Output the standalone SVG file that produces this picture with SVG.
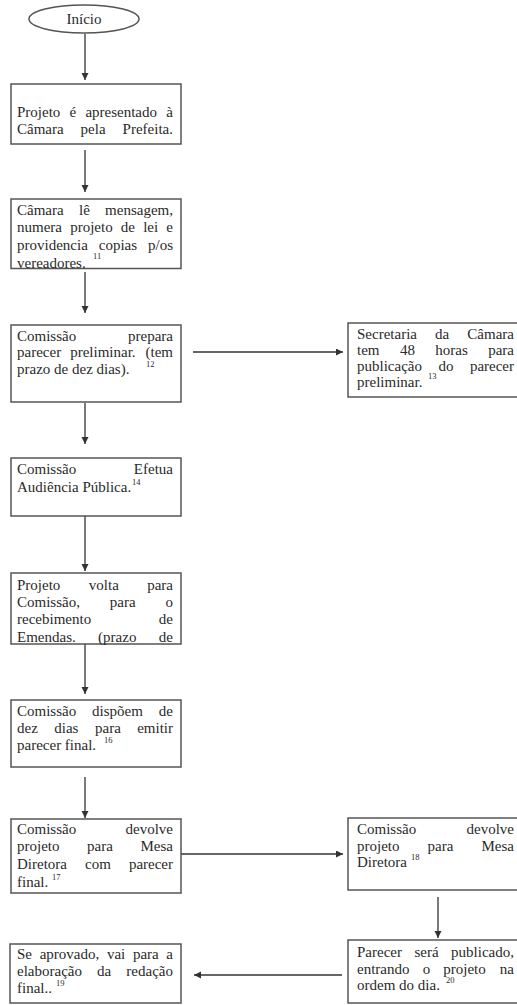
<svg xmlns="http://www.w3.org/2000/svg" width="517" height="1005" viewBox="0 0 517 1005">
<style>
.bx{fill:#fff;stroke:#555;stroke-width:1.5}
.t{font-family:"Liberation Serif","Times New Roman",serif;font-size:15px;fill:#2a2a2a}
.s{font-family:"Liberation Serif","Times New Roman",serif;font-size:8.5px;fill:#2a2a2a}
.e{text-anchor:end}
.c{fill:none;stroke:#333;stroke-width:1.3}
</style>
<defs>
<marker id="ah" markerUnits="userSpaceOnUse" markerWidth="8" markerHeight="8" refX="7" refY="3.5" orient="auto">
<path d="M0,0 L7,3.5 L0,7 z" fill="#333"/>
</marker>
</defs>
<rect width="517" height="1005" fill="#fff"/>

<g id="connectors">
<line class="c" x1="85" y1="34" x2="85" y2="80" marker-end="url(#ah)"/>
<line class="c" x1="85" y1="150" x2="85" y2="192" marker-end="url(#ah)"/>
<line class="c" x1="85" y1="272" x2="85" y2="313" marker-end="url(#ah)"/>
<line class="c" x1="193" y1="352" x2="343" y2="352" marker-end="url(#ah)"/>
<line class="c" x1="85" y1="403" x2="85" y2="444" marker-end="url(#ah)"/>
<line class="c" x1="85" y1="516" x2="85" y2="571" marker-end="url(#ah)"/>
<line class="c" x1="85" y1="644" x2="85" y2="694" marker-end="url(#ah)"/>
<line class="c" x1="85" y1="777" x2="85" y2="818" marker-end="url(#ah)"/>
<line class="c" x1="181" y1="854" x2="343" y2="854" marker-end="url(#ah)"/>
<line class="c" x1="438" y1="897" x2="438" y2="938" marker-end="url(#ah)"/>
<line class="c" x1="342" y1="975" x2="194" y2="975" marker-end="url(#ah)"/>
</g>

<g id="inicio">
<ellipse cx="84" cy="19" rx="55" ry="14" fill="#fff" stroke="#555" stroke-width="1.5"/>
<text class="t" x="84" y="24" text-anchor="middle">Início</text>
</g>

<g id="n1">
<rect class="bx" x="11" y="84" width="170" height="60"/>
<text class="t" y="117"><tspan x="17">Projeto</tspan><tspan x="69.5">é</tspan><tspan x="85.4">apresentado</tspan><tspan x="173" class="e">à</tspan></text>
<text class="t" y="134"><tspan x="17">Câmara</tspan><tspan x="80.6">pela</tspan><tspan x="173" class="e">Prefeita.</tspan></text>
</g>

<g id="n2">
<rect class="bx" x="11" y="199" width="170" height="69.5"/>
<text class="t" y="215"><tspan x="17">Câmara</tspan><tspan x="79">lê</tspan><tspan x="173" class="e">mensagem,</tspan></text>
<text class="t" y="232"><tspan x="17">numera</tspan><tspan x="70.2">projeto</tspan><tspan x="120.8">de</tspan><tspan x="143.2">lei</tspan><tspan x="173" class="e">e</tspan></text>
<text class="t" y="250"><tspan x="17">providencia</tspan><tspan x="98.8">copias</tspan><tspan x="173" class="e">p/os</tspan></text>
<text class="t" x="17" y="268">vereadores.</text>
<text class="s" x="93" y="259">11</text>
</g>

<g id="n3">
<rect class="bx" x="11" y="325" width="170" height="77"/>
<text class="t" y="341"><tspan x="17">Comissão</tspan><tspan x="173" class="e">prepara</tspan></text>
<text class="t" y="357"><tspan x="17">parecer</tspan><tspan x="70.2">preliminar.</tspan><tspan x="173" class="e">(tem</tspan></text>
<text class="t" x="17" y="374">prazo de dez dias).</text>
<text class="s" x="146" y="367">12</text>
</g>

<g id="n4">
<rect class="bx" x="348" y="323" width="171" height="74"/>
<text class="t" y="339"><tspan x="357">Secretaria</tspan><tspan x="435">da</tspan><tspan x="514" class="e">Câmara</tspan></text>
<text class="t" y="355"><tspan x="357">tem</tspan><tspan x="399.9">48</tspan><tspan x="435.3">horas</tspan><tspan x="514" class="e">para</tspan></text>
<text class="t" y="371"><tspan x="357">publicação</tspan><tspan x="438.5">do</tspan><tspan x="514" class="e">parecer</tspan></text>
<text class="t" x="357" y="387">preliminar.</text>
<text class="s" x="428" y="379">13</text>
</g>

<g id="n5">
<rect class="bx" x="11" y="458" width="170" height="58"/>
<text class="t" y="474"><tspan x="17">Comissão</tspan><tspan x="173" class="e">Efetua</tspan></text>
<text class="t" x="17" y="492">Audiência Pública.</text>
<text class="s" x="132" y="485">14</text>
</g>

<g id="n6">
<rect class="bx" x="11" y="573" width="170" height="71"/>
<text class="t" y="590"><tspan x="17">Projeto</tspan><tspan x="88.8">volta</tspan><tspan x="173" class="e">para</tspan></text>
<text class="t" y="607"><tspan x="17">Comissão,</tspan><tspan x="109.8">para</tspan><tspan x="173" class="e">o</tspan></text>
<text class="t" y="624"><tspan x="17">recebimento</tspan><tspan x="173" class="e">de</tspan></text>
<text class="t" y="642"><tspan x="17">Emendas.</tspan><tspan x="98.1">(prazo</tspan><tspan x="173" class="e">de</tspan></text>
</g>

<g id="n7">
<rect class="bx" x="11" y="700" width="170" height="67"/>
<text class="t" y="716"><tspan x="17">Comissão</tspan><tspan x="92.1">dispõem</tspan><tspan x="173" class="e">de</tspan></text>
<text class="t" y="733"><tspan x="17">dez</tspan><tspan x="54.3">dias</tspan><tspan x="95">para</tspan><tspan x="173" class="e">emitir</tspan></text>
<text class="t" x="17" y="750">parecer final.</text>
<text class="s" x="104" y="743">16</text>
</g>

<g id="n8">
<rect class="bx" x="11" y="819" width="170" height="74"/>
<text class="t" y="834"><tspan x="17">Comissão</tspan><tspan x="173" class="e">devolve</tspan></text>
<text class="t" y="851"><tspan x="17">projeto</tspan><tspan x="87.1">para</tspan><tspan x="173" class="e">Mesa</tspan></text>
<text class="t" y="869"><tspan x="17">Diretora</tspan><tspan x="85">com</tspan><tspan x="173" class="e">parecer</tspan></text>
<text class="t" x="17" y="887">final.</text>
<text class="s" x="52" y="880">17</text>
</g>

<g id="n9">
<rect class="bx" x="348" y="818" width="171" height="72"/>
<text class="t" y="834"><tspan x="357">Comissão</tspan><tspan x="514" class="e">devolve</tspan></text>
<text class="t" y="851"><tspan x="357">projeto</tspan><tspan x="427.6">para</tspan><tspan x="514" class="e">Mesa</tspan></text>
<text class="t" x="357" y="867">Diretora</text>
<text class="s" x="411" y="860">18</text>
</g>

<g id="n10">
<rect class="bx" x="348" y="940" width="171" height="63"/>
<text class="t" y="957"><tspan x="357">Parecer</tspan><tspan x="414.5">será</tspan><tspan x="514" class="e">publicado,</tspan></text>
<text class="t" y="974"><tspan x="357">entrando</tspan><tspan x="422.7">o</tspan><tspan x="443.3">projeto</tspan><tspan x="514" class="e">na</tspan></text>
<text class="t" x="357" y="990">ordem do dia.</text>
<text class="s" x="446" y="983">20</text>
</g>

<g id="n11">
<rect class="bx" x="10" y="944" width="171" height="59"/>
<text class="t" y="959"><tspan x="17">Se</tspan><tspan x="39.7">aprovado,</tspan><tspan x="106.9">vai</tspan><tspan x="132.9">para</tspan><tspan x="173" class="e">a</tspan></text>
<text class="t" y="976"><tspan x="17">elaboração</tspan><tspan x="97.1">da</tspan><tspan x="173" class="e">redação</tspan></text>
<text class="t" x="17" y="993">final..</text>
<text class="s" x="56" y="986">19</text>
</g>
</svg>
